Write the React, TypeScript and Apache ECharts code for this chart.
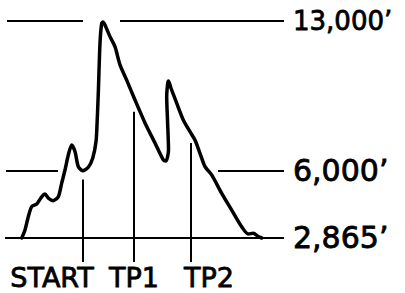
import React, { useEffect, useRef } from "react";
import * as echarts from "echarts";

// Elevation profile (distance units along the route, elevation in feet)
const distance = [
  16.7, 20, 23.3, 26.7, 31.7, 36.7, 40, 43.3, 48.3, 53.3, 56.7, 60, 63.3, 66.7, 70, 73.3,
  77.7, 83.3, 87.7, 91, 92, 93.3, 95, 96.7, 98, 100, 105, 110, 115, 121.7, 130, 140, 150,
  158.3, 161, 163.5, 162.5, 161.7, 162.7, 163.5, 166, 171.7, 178.3, 185, 190, 195, 200,
  206.7, 216.7, 226.7, 236.7, 243.3, 248.3, 253.3, 256.7,
];
const elevation = [
  2865, 3240, 3860, 4330, 4450, 4790, 4920, 4730, 4610, 4790, 5430, 6040, 6740, 7210, 6900, 6200,
  6010, 6170, 6590, 7360, 8140, 9640, 11970, 12890, 12950, 12810, 12270, 11800, 10950, 10240, 9310, 8240, 7300,
  6510, 6460, 6980, 8380, 9460, 10090, 10200, 9860, 9160, 8380, 7830, 7440, 6820, 6200,
  5810, 4950, 4170, 3390, 3050, 3090, 2930, 2865,
];

// Reference elevation lines: [label, elevation, segments as [from, to] distance]
const refLabels = ["13,000’", "6,000’", "2,865’"];
const refElevations = [13000, 6000, 2865];
const refSegments = [
  [[2, 78], [115, 279]],
  [[1, 53], [213, 279]],
  [[0, 279]],
];

// Markers along the route
const markerNames = ["START", "TP1", "TP2"];
const markerDistance = [78, 129, 186];
const markerTop = [5600, 8760, 7300];

const Y_MIN = 1744;
const Y_MAX = 13000;

export default function App() {
  const ref = useRef<HTMLDivElement>(null);
  useEffect(() => {
    document.body.style.margin = "0";
    const chart = echarts.init(ref.current!, undefined, { renderer: "svg" });
    const font = "DejaVu Sans";

    const markLineData: any[] = [];
    refSegments.forEach((segs, i) => {
      segs.forEach((seg, j) => {
        const isLast = j === segs.length - 1;
        markLineData.push([
          { coord: [seg[0], refElevations[i]] },
          {
            coord: [seg[1], refElevations[i]],
            label: isLast
              ? {
                  show: true,
                  position: "end",
                  distance: 9,
                  formatter: refLabels[i],
                  color: "#000",
                  fontFamily: font,
                  fontWeight: "normal",
                  fontSize: i === 0 ? 26 : 30,
                  textBorderColor: "#000",
                  textBorderWidth: 0.8,
                }
              : { show: false },
          },
        ]);
      });
    });

    const markerSeries = markerNames.map((name, i) => ({
      type: "line",
      name,
      data: [
        [markerDistance[i], markerTop[i]],
        [markerDistance[i], Y_MIN],
      ],
      symbol: "none",
      silent: true,
      lineStyle: { color: "#000", width: 2 },
    }));

    chart.setOption({
      animation: false,
      grid: { left: 5, right: 121, top: 21, bottom: 31 },
      xAxis: { type: "value", min: 0, max: 279, show: false },
      yAxis: { type: "value", min: Y_MIN, max: Y_MAX, show: false },
      series: [
        {
          type: "line",
          name: "Elevation",
          data: distance.map((d, i) => [d, elevation[i]]),
          symbol: "none",
          smooth: 0.25,
          lineStyle: { color: "#000", width: 3.5, cap: "round", join: "round" },
          markLine: {
            silent: true,
            symbol: ["none", "none"],
            lineStyle: { color: "#000", width: 2, type: "solid" },
            data: markLineData,
          },
        },
        ...markerSeries,
      ],
      graphic: markerNames.map((name, i) => ({
        type: "text",
        x: [52, 134, 209][i],
        y: 277,
        style: {
          text: name,
          fill: "#000",
          font: `27px "${font}"`,
          textAlign: "center",
          textVerticalAlign: "middle",
          stroke: "#000",
          lineWidth: 0.8,
        },
      })),
    });
    return () => chart.dispose();
  }, []);
  return <div ref={ref} style={{ width: 405, height: 293 }} />;
}
